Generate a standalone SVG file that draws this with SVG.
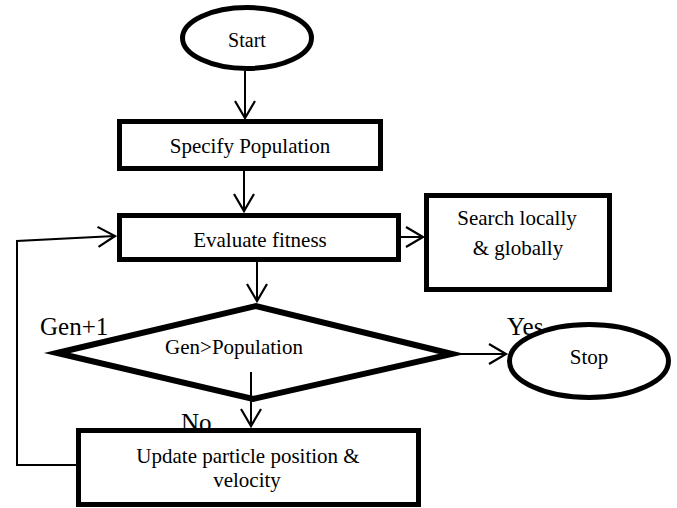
<svg xmlns="http://www.w3.org/2000/svg" width="677" height="508" viewBox="0 0 677 508">
<defs>
<style>
.node{fill:#fff;stroke:#000;stroke-width:5}
.dia{fill:none;stroke:#000;stroke-width:6;stroke-linejoin:miter;stroke-miterlimit:12}
.conn{fill:none;stroke:#000;stroke-width:2}
text{font-family:"Liberation Serif","Times New Roman",serif;fill:#000}
.t{font-size:21px;text-anchor:middle}
.lbl{font-size:25px}
</style>
<marker id="arr" markerUnits="userSpaceOnUse" markerWidth="40" markerHeight="40" viewBox="-20 -20 40 40" refX="0" refY="0" orient="auto">
<path d="M-17,-10 L0,0 L-17,10" fill="none" stroke="#000" stroke-width="2.2"/>
</marker>
</defs>
<rect width="677" height="508" fill="#fff"/>
<g id="connectors">
<path class="conn" d="M245,71 L245,118" marker-end="url(#arr)"/>
<path class="conn" d="M244,171 L244,211" marker-end="url(#arr)"/>
<path class="conn" d="M401,237 L423,237" marker-end="url(#arr)"/>
<path class="conn" d="M257,262 L257,301" marker-end="url(#arr)"/>
<path class="conn" d="M460,354 L506,354" marker-end="url(#arr)"/>
<path class="conn" d="M251,372 L251,426" marker-end="url(#arr)"/>
<path class="conn" d="M78,465 L17,465 L17,241 L115,236" marker-end="url(#arr)"/>
<text class="lbl" x="40" y="335">Gen+1</text>
<text class="lbl" x="507" y="335">Yes</text>
<text class="lbl" x="181" y="431">No</text>
</g>
<g id="start">
<ellipse class="node" cx="247" cy="38" rx="64.5" ry="30.5"/>
<text class="t" x="247" y="47" style="font-size:20px">Start</text>
</g>
<g id="specify">
<rect class="node" x="119.5" y="121.5" width="261" height="47"/>
<text class="t" x="250" y="153">Specify Population</text>
</g>
<g id="evaluate">
<rect class="node" x="119.5" y="215.5" width="279" height="44"/>
<text class="t" x="260" y="247">Evaluate fitness</text>
</g>
<g id="search">
<rect class="node" x="426.5" y="195.5" width="183" height="94"/>
<text class="t" x="517" y="225">Search locally</text>
<text class="t" x="518" y="255">&amp; globally</text>
</g>
<g id="decision">
<polygon class="dia" points="57,353 256,306 452,354 253,399"/>
<text class="t" x="234" y="354">Gen&gt;Population</text>
</g>
<g id="stop">
<ellipse class="node" cx="589" cy="361" rx="79.5" ry="36.5"/>
<text class="t" x="589" y="364">Stop</text>
</g>
<g id="update">
<rect class="node" x="78.5" y="430.5" width="340" height="74"/>
<text class="t" x="248" y="463">Update particle position &amp;</text>
<text class="t" x="247" y="487">velocity</text>
</g>
</svg>
